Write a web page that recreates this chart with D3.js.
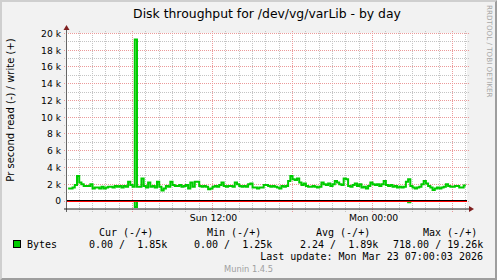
<!DOCTYPE html>
<html><head><meta charset="utf-8">
<script src="https://cdn.jsdelivr.net/npm/d3@7"></script>
<style>
html,body{margin:0;padding:0;background:#F2F2F2;}
svg{display:block;}
text{font-family:"DejaVu Sans",sans-serif;}
.mono{font-family:"DejaVu Sans Mono",monospace;}
</style></head><body>
<svg id="chart" width="497" height="280"></svg>
<script>
// ---------- data ----------
const title = "Disk throughput for /dev/vg/varLib - by day";
const yAxisLabel = "Pr second read (-) / write (+)";
const seriesName = "Bytes";
const startTime = "2026-03-22T01:05:00Z";
const endTime = "2026-03-23T07:05:00Z";
const firstSample = "2026-03-22T01:10:00Z";
const stepMinutes = 10;
// write bytes/s (in thousands), one value per 10-minute sample
const writeK = [
 1.5,1.5,1.5,1.6,1.9,3.0,2.2,2.0,1.8,1.8,
 1.8,2.0,1.5,1.6,1.6,1.5,1.7,1.5,1.6,1.7,
 1.7,1.6,1.8,1.7,1.8,1.6,1.8,1.7,2.3,1.9,
 1.7,19.26,1.7,1.7,2.7,1.8,1.6,2.2,1.7,1.8,
 1.6,2.3,1.7,1.25,1.5,1.8,1.7,2.3,1.9,1.8,
 1.8,1.9,1.7,1.8,1.9,1.5,2.2,1.7,2.3,2.3,
 1.8,1.7,1.8,1.7,1.4,1.5,1.7,1.8,1.7,1.9,
 2.2,1.8,1.7,1.8,1.8,1.7,2.2,2.0,1.8,1.7,
 1.8,1.7,2.0,2.1,1.6,1.6,1.5,1.6,1.6,1.9,
 1.9,1.8,1.7,1.8,1.7,1.6,1.5,1.8,1.7,1.8,
 2.4,3.0,2.6,2.5,2.7,2.2,1.9,2.1,1.8,1.7,
 1.7,1.8,1.7,1.6,1.7,2.2,2.0,1.9,2.1,1.8,
 2.0,2.4,2.2,2.0,1.9,2.7,2.6,1.8,1.7,1.9,
 2.1,1.8,2.0,1.6,1.7,1.5,1.8,2.2,2.0,1.9,
 2.0,1.8,2.0,2.4,1.9,1.8,1.9,1.7,1.8,1.6,
 1.7,1.6,1.7,2.3,2.6,1.8,1.6,1.5,1.6,1.7,
 2.0,2.4,2.1,1.8,1.6,1.3,1.5,1.6,1.5,1.6,
 1.7,2.0,1.8,1.7,1.7,1.8,1.8,1.6,1.6,1.85
];
// read bytes/s, one value per 10-minute sample (drawn negative)
const readBytes = [
 0,0,0,0,0,0,0,0,0,0, 0,0,0,0,0,0,0,0,0,0,
 0,0,0,0,0,0,0,0,0,0, 0,718,0,0,0,0,0,0,0,0,
 0,0,0,0,0,0,0,0,0,0, 0,0,0,0,0,0,0,0,0,0,
 0,0,0,0,0,0,0,0,0,0, 0,0,0,0,0,0,0,0,0,0,
 0,0,0,0,0,0,0,0,0,0, 0,0,0,0,0,0,0,0,0,0,
 0,0,0,0,0,0,0,0,0,0, 0,0,0,0,0,0,0,0,0,0,
 0,0,0,0,0,0,0,0,0,0, 0,0,0,0,0,0,0,0,0,0,
 0,0,0,0,0,0,0,0,0,0, 0,0,0,0,150,0,0,0,0,0,
 0,0,0,0,0,0,0,0,0,0, 0,0,0,0,0,0,0,0,0,0
];
const yTicks = [0,2000,4000,6000,8000,10000,12000,14000,16000,18000,20000];
const yTickLabels = ["0","2 k","4 k","6 k","8 k","10 k","12 k","14 k","16 k","18 k","20 k"];
const xLabelTimes = ["2026-03-22T12:00:00Z","2026-03-23T00:00:00Z"];
const legendHeaders = ["Cur (-/+)","Min (-/+)","Avg (-/+)","Max (-/+)"];
const legendValues = ["0.00 /  1.85k","0.00 /  1.25k","2.24 /  1.89k","718.00 / 19.26k"];
const lastUpdate = "Last update: Mon Mar 23 07:00:03 2026";
const versionText = "Munin 1.4.5";
const watermark = "RRDTOOL / TOBI OETIKER";

// ---------- drawing ----------
const W = 497, H = 280;
const X0 = 67, X1 = 467, YT = 33, YB = 209;
const svg = d3.select("#chart");
const GREEN = "#00CC00";

const t0 = new Date(startTime), t1 = new Date(endTime);
const x = d3.scaleUtc().domain([t0, t1]).range([X0, X1]);
const y = d3.scaleLinear().domain([-1000, 20000]).range([209.4, 33.4]);
const sampleT0 = new Date(firstSample).getTime();
const times = writeK.map((_, i) => new Date(sampleT0 + i * stepMinutes * 60000));

// background + 3d frame
svg.append("rect").attr("width", W).attr("height", H).attr("fill", "#F2F2F2");
svg.append("path").attr("d", `M0,0 L0,${H} L2,${H-2} L2,2 L${W-2},2 L${W},0 Z`).attr("fill", "#CFCFCF");
svg.append("path").attr("d", `M${W},0 L${W},${H} L0,${H} L2,${H-2} L${W-2},${H-2} L${W-2},2 Z`).attr("fill", "#9E9E9E");

// canvas
svg.append("rect").attr("x", X0).attr("y", YT).attr("width", X1 - X0).attr("height", YB - YT).attr("fill", "#FFFFFF");

const px = v => Math.floor(v) + 0.5;

// horizontal grid: minor every 1k, major every 2k
const minorY = d3.range(-1000, 20001, 1000).filter(v => v % 2000 !== 0 && v !== -1000);
svg.append("g").selectAll("line").data(minorY).join("line")
  .attr("x1", X0 - 3).attr("x2", X1 + 2)
  .attr("y1", d => px(y(d))).attr("y2", d => px(y(d)))
  .attr("stroke", "#C4C4C4").attr("stroke-dasharray", "1,1");
// vertical grid: minor every hour
const hours = d3.utcHour.range(t0, t1).filter(h => h > t0);
svg.append("g").selectAll("line").data(hours.filter(h => h.getUTCHours() % 6 !== 0)).join("line")
  .attr("x1", d => px(x(d))).attr("x2", d => px(x(d)))
  .attr("y1", YT - 2).attr("y2", YB + 3)
  .attr("stroke", "#C4C4C4").attr("stroke-dasharray", "1,1");
// major
svg.append("g").selectAll("line").data(yTicks).join("line")
  .attr("x1", X0 - 3).attr("x2", X1 + 2)
  .attr("y1", d => px(y(d))).attr("y2", d => px(y(d)))
  .attr("stroke", "#EC9A9A").attr("stroke-dasharray", "1,1");
svg.append("g").selectAll("line").data(hours.filter(h => h.getUTCHours() % 6 === 0)).join("line")
  .attr("x1", d => px(x(d))).attr("x2", d => px(x(d)))
  .attr("y1", YT - 2).attr("y2", YB + 3)
  .attr("stroke", "#EC9A9A").attr("stroke-dasharray", "1,1");

// y tick labels
svg.append("g").selectAll("text").data(yTicks).join("text")
  .attr("x", 61).attr("y", d => y(d) + 3.4)
  .attr("text-anchor", "end").attr("font-size", "9.2px").attr("fill", "#000")
  .text((d, i) => yTickLabels[i]);

// x labels
const fmt = d3.utcFormat("%a %H:%M");
svg.append("g").selectAll("text").data(xLabelTimes.map(s => new Date(s))).join("text")
  .attr("x", d => x(d) + 1).attr("y", 220.5)
  .attr("text-anchor", "middle").attr("font-size", "9.3px").attr("fill", "#000")
  .text(d => fmt(d));

// clip
svg.append("clipPath").attr("id", "clip").append("rect")
  .attr("x", X0).attr("y", YT - 1).attr("width", X1 - X0).attr("height", YB - YT + 2);

// data lines
const line = d3.line().curve(d3.curveStepBefore).x((d, i) => x(times[i]));
const g = svg.append("g").attr("clip-path", "url(#clip)");
g.append("path").datum(readBytes)
  .attr("d", line.y(d => y(-d)))
  .attr("fill", "none").attr("stroke", GREEN).attr("stroke-width", 2);
g.append("path").datum(writeK)
  .attr("d", line.y(d => y(d * 1000)))
  .attr("fill", "none").attr("stroke", GREEN).attr("stroke-width", 2);

// zero rules
const y0 = Math.round(y(0));
svg.append("line").attr("x1", X0).attr("x2", X1).attr("y1", y0 - 0.5).attr("y2", y0 - 0.5).attr("stroke", "#000");
svg.append("line").attr("x1", X0).attr("x2", X1).attr("y1", y0 + 0.5).attr("y2", y0 + 0.5).attr("stroke", "#FF0000");

// axes
svg.append("line").attr("x1", 66.5).attr("x2", 66.5).attr("y1", YB + 3).attr("y2", 29).attr("stroke", "#666");
svg.append("line").attr("x1", X0 - 3).attr("x2", 470).attr("y1", YB).attr("y2", YB).attr("stroke", "#1F1F1F");
svg.append("path").attr("d", "M63.5,30 L69.5,30 L66.5,25 Z").attr("fill", "#7F1F1F");
svg.append("path").attr("d", `M469,${YB-3} L469,${YB+3} L474,${YB} Z`).attr("fill", "#7F1F1F");

// title
svg.append("text").attr("x", 267).attr("y", 18.3).attr("text-anchor", "middle")
  .attr("font-size", "12.4px").attr("fill", "#000").text(title);
// y axis label
svg.append("text").attr("transform", "translate(13.5,110) rotate(-90)")
  .attr("text-anchor", "middle").attr("font-size", "10px").attr("fill", "#000").text(yAxisLabel);
// watermark
svg.append("text").attr("transform", "translate(487,5) rotate(90)")
  .attr("text-anchor", "start").attr("font-size", "7.2px").attr("fill", "#A8A8A8").text(watermark);

// legend
const headerX = [99, 207, 316, 423];
const valueX = [89, 194, 300, 393];
svg.append("g").selectAll("text").data(legendHeaders).join("text")
  .attr("class", "mono").attr("xml:space", "preserve")
  .attr("x", (d, i) => headerX[i]).attr("y", 235.5).attr("font-size", "10px").text(d => d);
svg.append("rect").attr("x", 13.5).attr("y", 240.5).attr("width", 7).attr("height", 7)
  .attr("fill", GREEN).attr("stroke", "#000");
svg.append("text").attr("class", "mono").attr("x", 27).attr("y", 247.5).attr("font-size", "10px").text(seriesName);
svg.append("g").selectAll("text").data(legendValues).join("text")
  .attr("class", "mono").style("white-space", "pre")
  .attr("x", (d, i) => valueX[i]).attr("y", 247.5).attr("font-size", "10px").text(d => d);
svg.append("text").attr("class", "mono").style("white-space", "pre")
  .attr("x", 483).attr("y", 259.5).attr("text-anchor", "end").attr("font-size", "10px").text(lastUpdate);
svg.append("text").attr("x", 248.5).attr("y", 271.5).attr("text-anchor", "middle")
  .attr("font-size", "8.3px").attr("fill", "#A0A0A0").text(versionText);
</script>
</body></html>
